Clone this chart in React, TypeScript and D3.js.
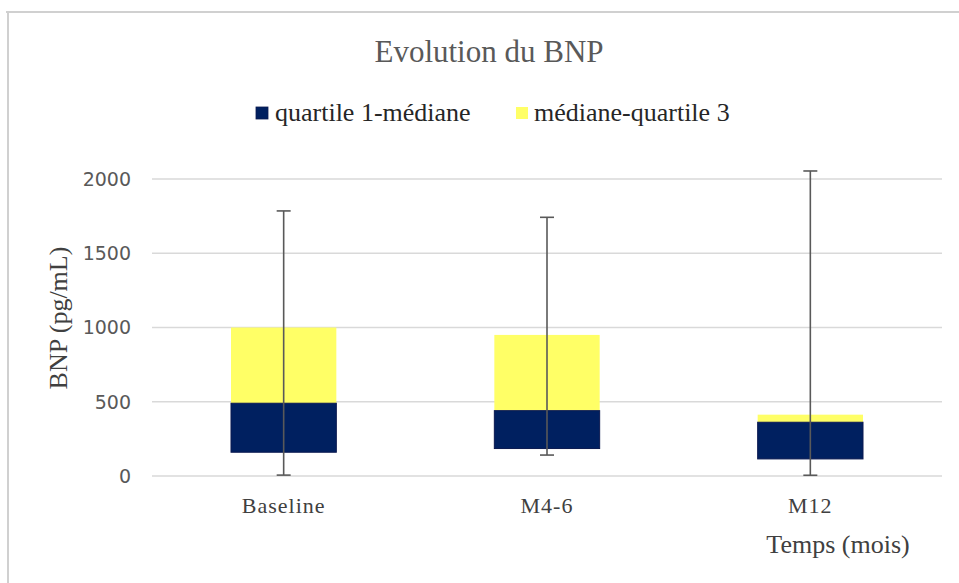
import React from "react";
import * as d3 from "d3";

const categories = ["Baseline", "M4-6", "M12"];
const q1 = [160, 185, 115];
const median = [490, 440, 362];
const q3 = [1000, 950, 413];
const minVal = [6, 141, 5];
const maxVal = [1785, 1742, 2054];
const yTicks = [0, 500, 1000, 1500, 2000];
const seriesNames = ["quartile 1-médiane", "médiane-quartile 3"];
const seriesColors = ["#002060", "#FFFF66"];

const W = 959;
const H = 583;
const serif = "'Liberation Serif', 'Times New Roman', serif";
const sans = "'DejaVu Sans', sans-serif";

export default function App() {
  const x = d3.scaleBand<string>().domain(categories).range([152, 942]).paddingInner(0.6).paddingOuter(0.3);
  const y = d3.scaleLinear().domain([0, 2000]).range([476, 179]);
  const bw = x.bandwidth();
  return (
    <svg width={W} height={H} style={{ position: "absolute", left: 0, top: 0, background: "#fff" }}>
      <rect x={0} y={0} width={W} height={H} fill="#fff" />
      <line x1={6} x2={W} y1={12} y2={12} stroke="#d0d0d0" strokeWidth={2} />
      <line x1={8} x2={8} y1={12} y2={H} stroke="#d0d0d0" strokeWidth={2} />
      <text x={489} y={62} textAnchor="middle" fontFamily={serif} fontSize={31} fill="#595959">Evolution du BNP</text>
      {/* legend */}
      <rect x={256} y={107} width={12} height={12} fill={seriesColors[0]} stroke="#0a1a50" strokeWidth={0.8} />
      <text x={275} y={121} fontFamily={serif} fontSize={26} fill="#262626">{seriesNames[0]}</text>
      <rect x={516} y={107} width={12} height={12} fill={seriesColors[1]} />
      <text x={534} y={121} fontFamily={serif} fontSize={26} fill="#262626">{seriesNames[1]}</text>
      {/* grid */}
      {yTicks.map((t) => (
        <g key={t}>
          <line x1={152} x2={942} y1={y(t)} y2={y(t)} stroke="#d9d9d9" strokeWidth={1.5} />
          <text x={131} y={y(t)} dy="0.36em" textAnchor="end" fontFamily={sans} fontSize={19} fill="#595959">{t}</text>
        </g>
      ))}
      {/* bars */}
      {categories.map((c, i) => {
        const x0 = x(c) as number;
        const cx = x0 + bw / 2;
        return (
          <g key={c}>
            <rect x={x0} y={y(q3[i])} width={bw} height={y(median[i]) - y(q3[i])} fill={seriesColors[1]} />
            <rect x={x0} y={y(median[i])} width={bw} height={y(q1[i]) - y(median[i])} fill={seriesColors[0]} stroke="#0b1950" strokeWidth={1} />
            <line x1={cx} x2={cx} y1={y(maxVal[i])} y2={y(minVal[i])} stroke="#595959" strokeWidth={1.6} />
            <line x1={cx - 7} x2={cx + 7} y1={y(maxVal[i])} y2={y(maxVal[i])} stroke="#595959" strokeWidth={1.6} />
            <line x1={cx - 7} x2={cx + 7} y1={y(minVal[i])} y2={y(minVal[i])} stroke="#595959" strokeWidth={1.6} />
            <text x={cx} y={513} textAnchor="middle" fontFamily={serif} fontSize={22} letterSpacing={1} fill="#404040">{c}</text>
          </g>
        );
      })}
      <text x={838} y={553} textAnchor="middle" fontFamily={serif} fontSize={26} fill="#404040">Temps (mois)</text>
      <text transform={`translate(67, 318) rotate(-90)`} textAnchor="middle" fontFamily={serif} fontSize={26} fill="#404040">BNP (pg/mL)</text>
    </svg>
  );
}
